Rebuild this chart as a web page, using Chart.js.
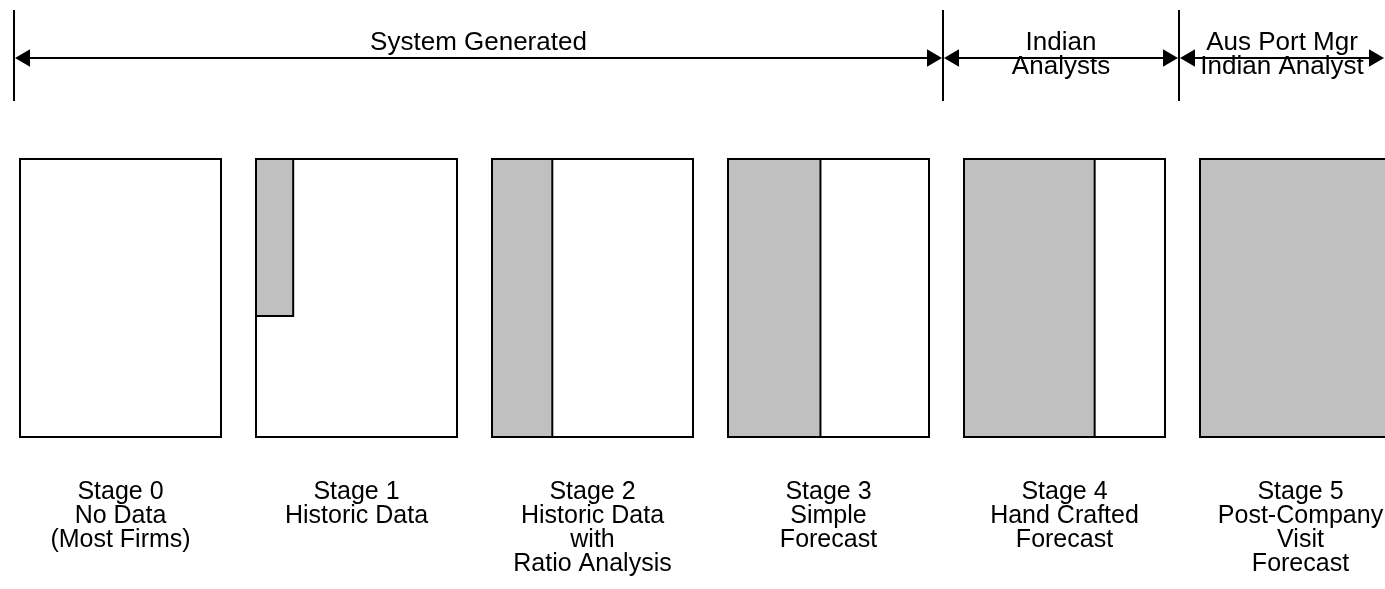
<!DOCTYPE html>
<html>
<head>
<meta charset="utf-8">
<title>Forecast stages</title>
<script src="https://cdn.jsdelivr.net/npm/chart.js@4.4.1/dist/chart.umd.min.js"></script>
<style>
    html, body { margin: 0; padding: 0; background: #fff; }
    #wrap { width: 1385px; height: 589px; }
</style>
</head>
<body>
<div id="wrap"><canvas id="stages"></canvas></div>
<script>
// Stages and how much of each box is shaded
const stageNames = ['Stage 0', 'Stage 1', 'Stage 2', 'Stage 3', 'Stage 4', 'Stage 5'];
const stageDescriptions = [
    ['No Data', '(Most Firms)'],
    ['Historic Data'],
    ['Historic Data', 'with', 'Ratio Analysis'],
    ['Simple', 'Forecast'],
    ['Hand Crafted', 'Forecast'],
    ['Post-Company', 'Visit', 'Forecast']
];
const shadedWidth = [0, 0.185, 0.30, 0.46, 0.65, 1];
const shadedHeight = [0, 0.565, 1, 1, 1, 1];

// Who does the work, and from which stage on
const groupLabels = [['System Generated'], ['Indian', 'Analysts'], ['Aus Port Mgr', 'Indian Analyst']];
const groupFirstStage = [0, 4, 5];

// Layout, in pixels
const W = 1385, H = 589;
const boxLeft = 20, boxStep = 236, boxWidth = 201;
const boxTop = 159, boxBottom = 437;
const axisTop = 470;
const arrowPx = 58, bracketTopPx = 10, bracketBottomPx = 101;
const headRadius = 10;
const labelFont = '"Liberation Sans", Arial, sans-serif';

// x unit = one box width, y unit = one box height
const pxToX = px => (px - boxLeft) / boxWidth;
const pxToY = py => (boxBottom - py) / (boxBottom - boxTop);
const stageLeft = i => i * boxStep / boxWidth;
const xMin = pxToX(0), xMax = pxToX(W);

function groupLeft(g) {
    const k = groupFirstStage[g];
    return stageLeft(k) - (g === 0 ? 6 : 21) / boxWidth;
}
function groupRight(g) {
    return g + 1 < groupFirstStage.length ? groupLeft(g + 1) : xMax;
}

const line = (points, extra) => Object.assign({
    type: 'line',
    data: points,
    borderColor: '#000',
    borderWidth: 2,
    pointRadius: 0,
    fill: false,
    tension: 0,
    borderJoinStyle: 'miter',
    borderCapStyle: 'square',
    order: 0
}, extra);

const rect = (x0, y0, x1, y1) => [
    {x: x0, y: y0}, {x: x0, y: y1}, {x: x1, y: y1}, {x: x1, y: y0}, {x: x0, y: y0}
];

const datasets = [];

// brackets at the top
const arrowY = pxToY(arrowPx);
const headX = (headRadius + 1) / boxWidth;
groupLabels.forEach((_, g) => {
    const a = groupLeft(g), b = groupRight(g);
    datasets.push(line([{x: a, y: pxToY(bracketTopPx)}, {x: a, y: pxToY(bracketBottomPx)}], {borderCapStyle: 'butt'}));
    datasets.push(line([{x: a + headX, y: arrowY}, {x: b - headX, y: arrowY}], {
        pointStyle: 'triangle',
        pointRadius: headRadius,
        pointRotation: [270, 90],
        pointBackgroundColor: '#000',
        pointBorderWidth: 0
    }));
});

// stage boxes
stageNames.forEach((_, i) => {
    const l = stageLeft(i);
    if (shadedWidth[i] > 0) {
        const gr = l + shadedWidth[i];
        const gb = 1 - shadedHeight[i];
        datasets.push(line([{x: l, y: 1}, {x: gr, y: 1}], {
            borderColor: 'rgba(0,0,0,0)',
            backgroundColor: '#c0c0c0',
            fill: {value: gb},
            order: 1
        }));
        datasets.push(line(rect(l, gb, gr, 1)));
    }
    datasets.push(line(rect(l, 0, l + 1, 1)));
});

// group labels round the arrows
const bracketLabels = {
    id: 'bracketLabels',
    afterDatasetsDraw(chart) {
        const {ctx, scales: {x, y}} = chart;
        ctx.save();
        ctx.font = '26px ' + labelFont;
        ctx.fillStyle = '#000';
        ctx.textAlign = 'center';
        ctx.textBaseline = 'middle';
        groupLabels.forEach((lines, g) => {
            const cx = (x.getPixelForValue(groupLeft(g)) + x.getPixelForValue(groupRight(g))) / 2;
            lines.forEach((t, n) => {
                ctx.fillText(t, cx, y.getPixelForValue(pxToY(43 + n * 24)));
            });
        });
        ctx.restore();
    }
};

new Chart(document.getElementById('stages'), {
    type: 'line',
    data: { datasets: datasets },
    plugins: [bracketLabels],
    options: {
        responsive: true,
        maintainAspectRatio: false,
        animation: false,
        events: [],
        layout: { padding: 0, autoPadding: false },
        plugins: {
            legend: { display: false },
            tooltip: { enabled: false }
        },
        scales: {
            x: {
                type: 'linear',
                min: xMin,
                max: xMax,
                grid: { display: false, drawTicks: false },
                border: { display: false },
                afterBuildTicks: scale => {
                    scale.ticks = stageNames.map((_, i) => ({value: stageLeft(i) + 0.5}));
                },
                afterFit: scale => {
                    scale.height = H - axisTop;
                    scale.paddingLeft = 0;
                    scale.paddingRight = 0;
                },
                ticks: {
                    autoSkip: false,
                    maxRotation: 0,
                    minRotation: 0,
                    padding: 10,
                    color: '#000',
                    font: { family: labelFont, size: 25, lineHeight: 0.96 },
                    callback: (value, index) => [stageNames[index]].concat(stageDescriptions[index])
                }
            },
            y: {
                type: 'linear',
                display: false,
                min: pxToY(axisTop),
                max: pxToY(0)
            }
        }
    }
});
</script>
</body>
</html>
